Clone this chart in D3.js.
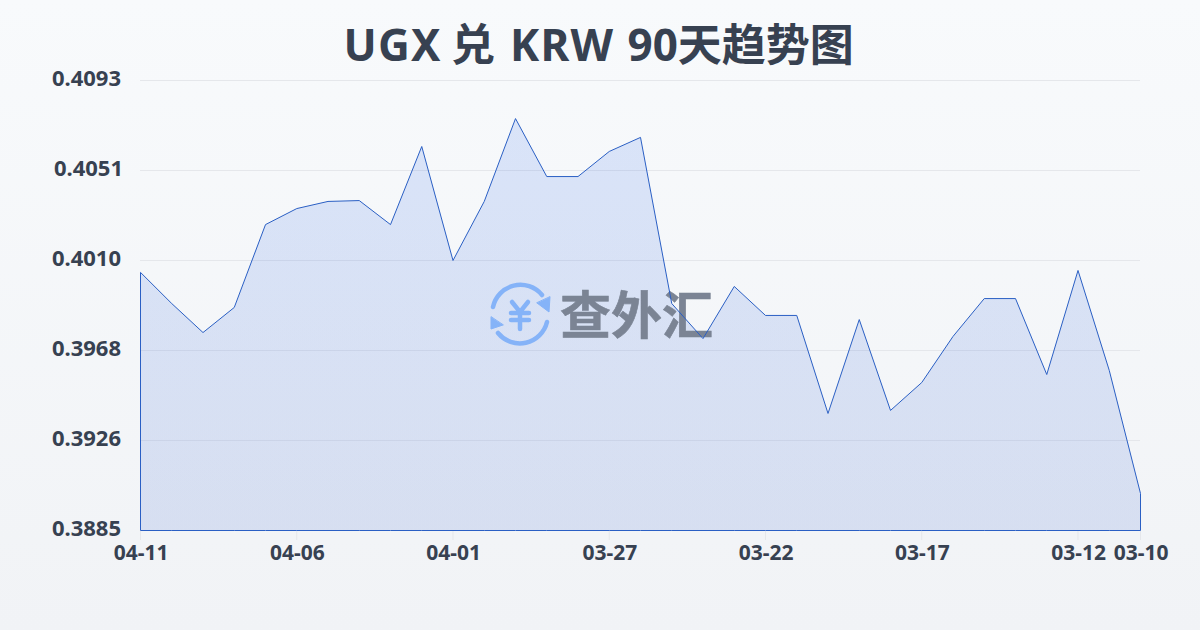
<!DOCTYPE html>
<html><head><meta charset="utf-8">
<script src="https://cdn.jsdelivr.net/npm/d3@7/dist/d3.min.js"></script>
<style>html,body{margin:0;padding:0;width:1200px;height:630px;overflow:hidden}svg{display:block}</style>
</head><body><svg id="c" width="1200" height="630"></svg>
<script>
const titleParts = ["UGX ","兑 ","KRW ","90天趋势图"];
const watermarkText = "查外汇";
const dates = ["04-11","04-10","04-09","04-08","04-07","04-06","04-05","04-04","04-03","04-02","04-01","03-31","03-30","03-29","03-28","03-27","03-26","03-25","03-24","03-23","03-22","03-21","03-20","03-19","03-18","03-17","03-16","03-15","03-14","03-13","03-12","03-11","03-10"];
const rates = [0.40043,0.39899,0.39765,0.39881,0.40264,0.40338,0.40371,0.40375,0.40264,0.40625,0.40098,0.40371,0.40754,0.40486,0.40486,0.40602,0.40667,0.39899,0.39737,0.39978,0.39844,0.39844,0.39391,0.39825,0.39405,0.39534,0.39747,0.39922,0.39922,0.39571,0.40052,0.3959,0.39021];
const xTickLabels = ["04-11","04-06","04-01","03-27","03-22","03-17","03-12","03-10"];
const yTicks = [0.3885,0.39266,0.39682,0.40098,0.40514,0.4093];
const yTickLabels = ["0.3885","0.3926","0.3968","0.4010","0.4051","0.4093"];

const svg = d3.select("#c");
const defs = svg.append("defs");
const bg = defs.append("linearGradient").attr("id","bg").attr("x1",0).attr("y1",0).attr("x2",0).attr("y2",1);
bg.append("stop").attr("offset",0).attr("stop-color","#f8fafc");
bg.append("stop").attr("offset",1).attr("stop-color","#f1f3f6");
svg.append("rect").attr("width",1200).attr("height",630).attr("fill","url(#bg)");
const ag = defs.append("linearGradient").attr("id","ag").attr("gradientUnits","userSpaceOnUse").attr("x1",0).attr("y1",118).attr("x2",0).attr("y2",530);
ag.append("stop").attr("offset",0).attr("stop-color","#2563eb").attr("stop-opacity",.14);
ag.append("stop").attr("offset",1).attr("stop-color","#2050c8").attr("stop-opacity",.13);

const font = "'Noto Sans','Noto Sans CJK SC',sans-serif";
const x = d3.scalePoint().domain(dates).range([140.5,1140.5]);
const y = d3.scaleLinear().domain([0.3885,0.4093]).range([530.5,80.5]);

const title = svg.append("text").attr("y",61)
  .attr("font-family",font).attr("font-weight",700).attr("font-size",44).attr("fill","#374151");
const titleX = [343.5,451,510,627.5];
const titleLS = [1.2,0,1.2,0];
titleParts.forEach((t,i)=>title.append("tspan").attr("x",titleX[i]).attr("letter-spacing",titleLS[i]).text(t));

// grid
svg.append("g").selectAll("line").data(yTicks.slice(1)).join("line")
  .attr("x1",140).attr("x2",1140).attr("y1",d=>y(d)).attr("y2",d=>y(d))
  .attr("stroke","#e5e7eb").attr("stroke-width",1);

// area
const area = d3.area().x(d=>x(d.date)).y0(y(0.3885)).y1(d=>y(d.rate));
const rows = dates.map((date,i)=>({date,rate:rates[i]}));
svg.append("path").datum(rows).attr("d",area).attr("fill","url(#ag)");

// watermark
svg.append("text").attr("x",560).attr("y",334).attr("font-family","'Noto Sans CJK SC',sans-serif")
  .attr("font-weight",700).attr("font-size",51).attr("fill","#7b8494").attr("stroke","#7b8494").attr("stroke-width",.6).text(watermarkText);
const logoBlue = "#85b3f8";
const logo = svg.append("g").attr("transform","translate(520,315)").attr("fill","none").attr("stroke",logoBlue).attr("stroke-linecap","round");
logo.append("path").attr("d","M-27,-8 A28,28 0 0 1 22,-20").attr("stroke-width",4.5);
logo.append("path").attr("d","M27,7 A28,28 0 0 1 -22,18").attr("stroke-width",4.5);
logo.append("path").attr("d","M30,-18 L29,-3 L17,-12 Z").attr("fill",logoBlue).attr("stroke",logoBlue).attr("stroke-width",1);
logo.append("path").attr("d","M-29,2 L-29,14 L-17,10 Z").attr("fill",logoBlue).attr("stroke",logoBlue).attr("stroke-width",1);
logo.append("path").attr("d","M-8,-13 L0,-3 L8,-13 M-9,-2 H9 M-9,5 H9 M0,-3 V14").attr("stroke-width",4.5);

// outline
svg.append("path").datum(rows).attr("d",area).attr("fill","none").attr("stroke","#2a5fc4").attr("stroke-width",1);

// x ticks
svg.append("g").selectAll("line").data(xTickLabels).join("line")
  .attr("x1",d=>x(d)).attr("x2",d=>x(d)).attr("y1",531).attr("y2",540).attr("stroke","#e5e7eb");
svg.append("g").selectAll("text").data(xTickLabels).join("text")
  .attr("x",d=>x(d)+.7).attr("y",560).attr("text-anchor","middle")
  .attr("font-family",font).attr("font-weight",700).attr("font-size",21).attr("fill","#374151").text(d=>d);
// y labels
svg.append("g").selectAll("text").data(yTicks).join("text")
  .attr("x",(d,i)=>i===4?123:121).attr("y",d=>y(d)+5.5).attr("text-anchor","end")
  .attr("font-family",font).attr("font-weight",700).attr("font-size",22).attr("fill","#374151")
  .text((d,i)=>yTickLabels[i]);
</script></body></html>
